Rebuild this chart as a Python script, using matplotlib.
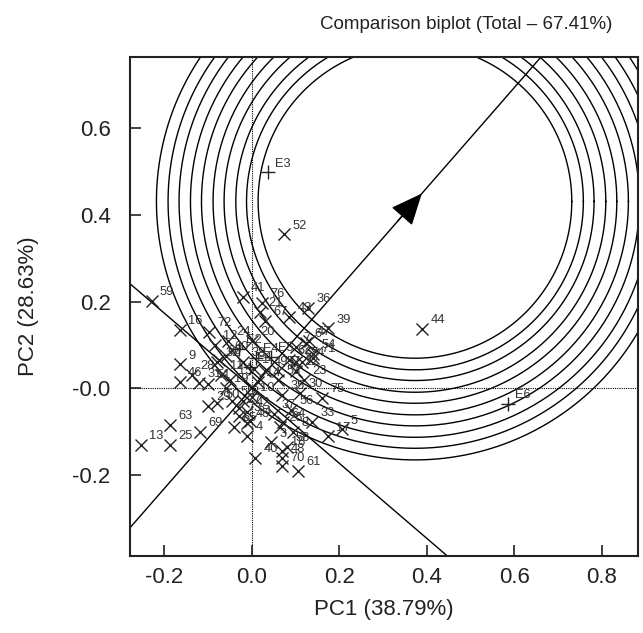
import numpy as np
import matplotlib
matplotlib.use("Agg")
import matplotlib.pyplot as plt

plt.rcParams['font.family'] = ['Liberation Sans', 'DejaVu Sans']

# ---------------- data ----------------
gen_labels = [str(i) for i in range(1, 77)]
gen_pc1 = [0.005, -0.02, 0.045, -0.01, 0.206, 0.125, 0.10, 0.095, -0.165, 0.00,
           -0.07, -0.085, -0.254, 0.014, -0.05, -0.165, 0.174, 0.07, -0.06, 0.00,
           0.018, 0.10, 0.12, -0.055, -0.188, 0.065, -0.03, -0.137, -0.10, 0.11,
           -0.12, -0.08, 0.137, -0.005, 0.07, 0.128, 0.05, -0.02, 0.174, 0.007,
           -0.021, -0.01, 0.085, 0.389, -0.01, -0.165, 0.13, 0.07, 0.03, -0.08,
           -0.10, 0.073, 0.06, 0.14, -0.045, 0.09, 0.06, 0.08, -0.229, -0.06,
           0.105, 0.085, -0.188, 0.071, -0.04, -0.075, 0.03, 0.10, -0.119, 0.07,
           0.14, -0.098, -0.03, 0.115, 0.16, 0.023]
gen_pc2 = [0.045, -0.03, -0.125, -0.11, -0.095, 0.105, 0.095, -0.10, 0.055, -0.02,
           0.03, 0.10, -0.130, 0.015, 0.02, 0.135, -0.111, -0.145, 0.00, 0.11,
           0.176, 0.04, 0.02, 0.11, -0.130, -0.09, -0.045, 0.03, -0.04, -0.01,
           0.013, 0.06, -0.077, -0.075, -0.015, 0.185, -0.06, 0.06, 0.138, -0.16,
           0.21, -0.055, 0.165, 0.137, -0.08, 0.015, 0.11, -0.16, 0.04, -0.035,
           0.01, 0.355, 0.02, 0.08, -0.03, -0.05, 0.04, -0.135, 0.201, 0.075,
           -0.19, 0.065, -0.085, -0.079, -0.09, 0.065, 0.155, 0.06, -0.10, -0.18,
           0.07, 0.13, -0.065, 0.06, -0.022, 0.197]

env_labels = ['E1', 'E2', 'E3', 'E4', 'E5', 'E6']
env_pc1 = [-0.005, -0.03, 0.037, 0.01, 0.045, 0.586]
env_pc2 = [0.05, 0.09, 0.498, 0.07, 0.072, -0.036]

# ideal (average environment) point and concentric circle radii
ideal_pc1 = 0.373
ideal_pc2 = 0.431
circle_radii = [0.3586, 0.3851, 0.4096, 0.4364, 0.4616,
                0.4881, 0.5133, 0.5394, 0.5645, 0.5911]

xticks = [-0.2, 0.0, 0.2, 0.4, 0.6, 0.8]
xticklabels = ['-0.2', '0.0', '0.2', '0.4', '0.6', '0.8']
yticks = [-0.2, 0.0, 0.2, 0.4, 0.6]
yticklabels = ['-0.2', '-0.0', '0.2', '0.4', '0.6']

title = 'Comparison biplot (Total \u2013 67.41%)'
xlabel = 'PC1 (38.79%)'
ylabel = 'PC2 (28.63%)'

# ---------------- figure ----------------
fig = plt.figure(figsize=(6.43, 6.33), dpi=100)
ax_w, ax_h = 0.790, 0.7883
ax = fig.add_axes([0.2022, 0.1216, ax_w, ax_h])
xmin, xmax = -0.2785, 0.883
ymin, ymax = -0.387, 0.764
ax.set_xlim(xmin, xmax)
ax.set_ylim(ymin, ymax)

# pixel aspect correction so circles look round
x_ppu = ax_w * 643 / (xmax - xmin)
y_ppu = ax_h * 633 / (ymax - ymin)
yfac = x_ppu / y_ppu

# concentric circles
t = np.linspace(0, 2 * np.pi, 721)
for r in circle_radii:
    ax.plot(ideal_pc1 + r * np.cos(t), ideal_pc2 + r * yfac * np.sin(t),
            color='black', lw=1.0, zorder=2)

# average environment axis through origin and ideal point
slope = ideal_pc2 / ideal_pc1
xs = np.array([xmin, xmax])
ax.plot(xs, slope * xs, color='black', lw=1.0, zorder=2)
# perpendicular through origin
pslope = -ideal_pc1 / ideal_pc2
ax.plot(xs, pslope * xs, color='black', lw=1.0, zorder=2)

# arrow head at ideal point
d = np.array([ideal_pc1, ideal_pc2])
d = d / np.hypot(*d)
tip = (ideal_pc1 + 0.024 * d[0], ideal_pc2 + 0.024 * d[1])
back = (ideal_pc1 - 0.06 * d[0], ideal_pc2 - 0.06 * d[1])
ax.annotate('', xy=tip, xytext=back,
            arrowprops=dict(arrowstyle='-|>,head_length=0.8,head_width=0.35',
                            mutation_scale=25, color='black', lw=1.0,
                            shrinkA=0, shrinkB=0), zorder=4)

# origin reference lines (dotted)
ax.axhline(0, color='black', lw=0.8, ls=(0, (1, 1)), zorder=1)
ax.axvline(0, color='black', lw=0.8, ls=(0, (1, 1)), zorder=1)

# genotypes
ax.plot(gen_pc1, gen_pc2, ls='none', marker='x', ms=8, mew=1.0,
        color='#222222', zorder=3)
for lab, x, y in zip(gen_labels, gen_pc1, gen_pc2):
    ax.annotate(lab, (x, y), xytext=(6, 2), textcoords='offset points',
                fontsize=9.3, color='#333333', ha='left', va='bottom', zorder=3)

# environments
ax.plot(env_pc1, env_pc2, ls='none', marker='+', ms=10, mew=1.0,
        color='#222222', zorder=3)
for lab, x, y in zip(env_labels, env_pc1, env_pc2):
    ax.annotate(lab, (x, y), xytext=(5, 2), textcoords='offset points',
                fontsize=9.3, color='#333333', ha='left', va='bottom', zorder=3)

# axes styling
for s in ax.spines.values():
    s.set_linewidth(1.5)
    s.set_color('#222222')
ax.set_xticks(xticks)
ax.set_xticklabels(xticklabels)
ax.set_yticks(yticks)
ax.set_yticklabels(yticklabels)
ax.tick_params(direction='in', length=8, width=1.2, labelsize=16,
               colors='#222222')
ax.tick_params(axis='x', pad=8)
ax.tick_params(axis='y', pad=14)
ax.set_xlabel(xlabel, fontsize=16, labelpad=8, color='#222222')
ax.set_ylabel(ylabel, fontsize=16, labelpad=24, color='#222222')

fig.text(0.952, 0.962, title, ha='right', va='center', fontsize=13.5,
         color='#222222')

fig.savefig('out.png', dpi=100)
